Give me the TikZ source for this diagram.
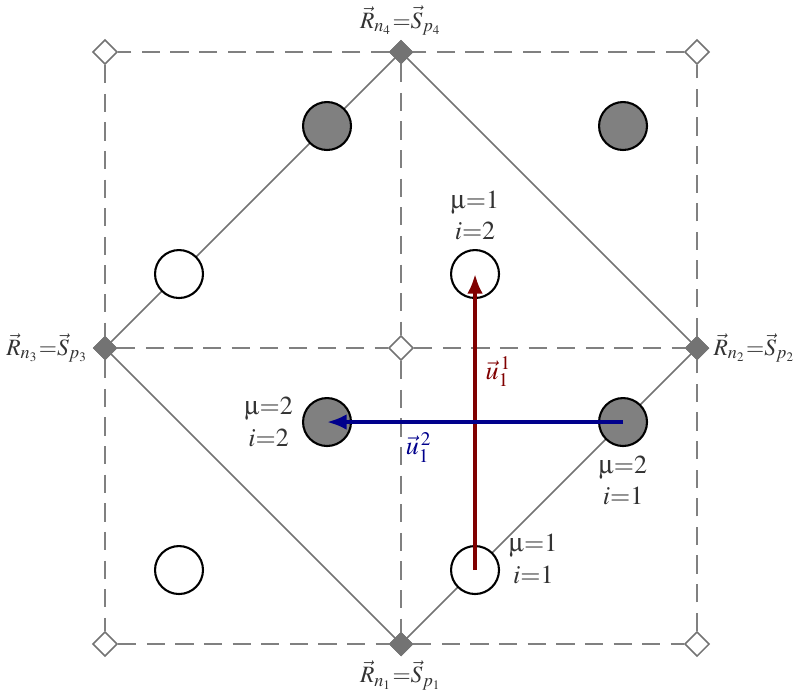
\documentclass[tikz,border=0pt]{standalone}
\usepackage{mathptmx}
\usepackage[Symbol]{upgreek}
\usepackage{tikz}
\usetikzlibrary{arrows.meta,positioning,shapes.geometric}

\begin{document}
\begin{tikzpicture}[font=\normalsize, node distance=0pt and 0pt, text=black!80,
  vertex/.style={draw=black!55, fill=black!55, diamond, inner sep=0pt, minimum size=9pt},
  corner/.style={draw=black!55, fill=white, diamond, line width=0.6pt, inner sep=0pt, minimum size=9.5pt},
  filled/.style={draw, circle, fill=black!50, line width=0.8pt, minimum size=18.6mm/2.87, inner sep=0pt},
  empty/.style={draw, circle, fill=white, line width=0.8pt, minimum size=18.6mm/2.87, inner sep=0pt},
  grid/.style={draw=black!50, line width=0.7pt, dash pattern=on 7pt off 4pt},
  edge/.style={draw=black!55, line width=0.6pt},
  site/.style={font=\small, inner sep=1.5pt},
  hop/.style={-{Latex[length=7.5pt,width=6pt]}, line width=1.4pt}]
\useasboundingbox (-5.419,-4.730) rectangle (5.459,4.703);
% lattice markers
\node[vertex] (n1) at (0,-4) {};
\node[vertex] (n2) at (4,0) {};
\node[vertex] (n3) at (-4,0) {};
\node[vertex] (n4) at (0,4) {};
\node[corner] (c1) at (-4,-4) {};
\node[corner] (c2) at (4,-4) {};
\node[corner] (c3) at (4,4) {};
\node[corner] (c4) at (-4,4) {};
\node[corner] (c0) at (0,0) {};
% dashed cell
\path[grid] (c1) -- (n1) -- (c2) -- (n2) -- (c3) -- (n4) -- (c4) -- (n3) -- (c1);
\path[grid] (n4) -- (c0) -- (n1);
\path[grid] (n3) -- (c0) -- (n2);
% diamond
\path[edge] (n1.center) -- (n2.center) -- (n4.center) -- (n3.center) -- cycle;
\foreach \v in {n1,n2,n3,n4} \node[vertex] at (\v) {};
% sites
\node[filled] (a1) at (-1,3) {};
\node[filled] (a2) at (3,3) {};
\node[filled] (a3) at (-1,-1) {};
\node[filled] (a4) at (3,-1) {};
\node[empty] (b1) at (-3,1) {};
\node[empty] (b2) at (1,1) {};
\node[empty] (b3) at (-3,-3) {};
\node[empty] (b4) at (1,-3) {};
% labels
\node[site, above=0pt of n4] {$\vec{R}_{n_4}{=}\vec{S}_{p_4}$};
\node[site, left=0pt of n3] {$\vec{R}_{n_3}{=}\vec{S}_{p_3}$};
\node[site, right=0pt of n2] {$\vec{R}_{n_2}{=}\vec{S}_{p_2}$};
\node[site, below=0pt of n1] {$\vec{R}_{n_1}{=}\vec{S}_{p_1}$};
\node[above=of b2, align=center] {$\upmu{=}1$\\$i{=}2$};
\node[left=of a3, align=center] {$\upmu{=}2$\\$i{=}2$};
\node[below=of a4, align=center] {$\upmu{=}2$\\$i{=}1$};
\node[right=of b4, align=center, yshift=1.5mm] {$\upmu{=}1$\\$i{=}1$};
% hopping vectors
\draw[hop, red!50!black] (b4.center) -- node[pos=0.67, right, text=red!50!black]{$\vec{u}_1^{\,1}$} (b2.center);
\draw[hop, blue!55!black] (a4.center) -- node[pos=0.69, below, text=blue!55!black]{$\vec{u}_1^{\,2}$} (a3.center);
\end{tikzpicture}
\end{document}
